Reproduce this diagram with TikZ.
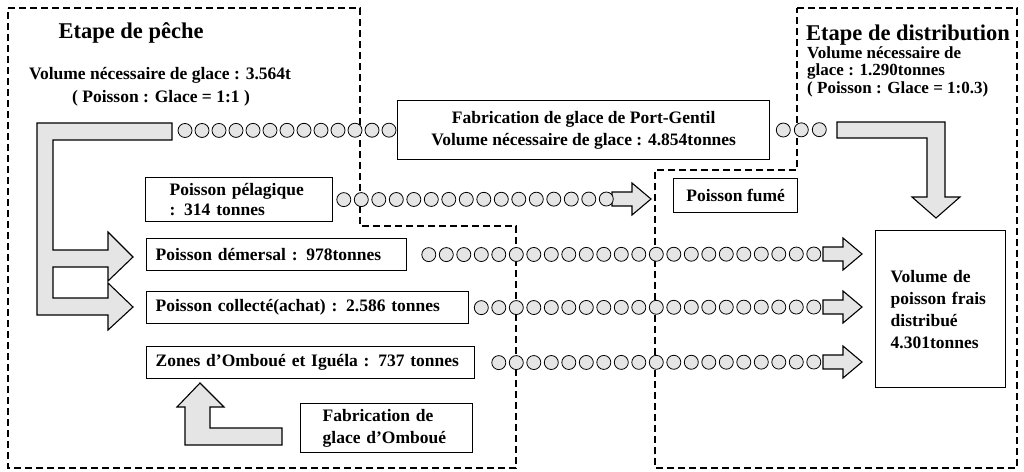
\documentclass[tikz,border=0pt]{standalone}
\usepackage{fontspec}
\setmainfont{Liberation Serif}
\usetikzlibrary{decorations.markings}
\newcommand\bodyfont{\bfseries\fontsize{17.5}{22}\selectfont}
\newcommand\titlefont{\bfseries\fontsize{22.5}{26}\selectfont}
\tikzset{
  region/.style={draw=black, line width=1.2pt, dash pattern=on 7pt off 4pt},
  box/.style={draw=black, line width=1.3pt, inner sep=0pt, font=\bodyfont, anchor=north west},
  blockfill/.style={draw=black, line width=1.1pt, fill=gray!20, line join=miter},
  beads/.style n args={3}{postaction={decorate}, decoration={markings,
      mark=between positions #1 and #2 step #3 with {\draw[line width=0.8pt, fill=gray!20] (0,0) circle (7pt);}}},
  pics/barrow/.style={code={\draw[blockfill] (0,-7) -- (20,-7) -- (20,-16) -- (39,0) -- (20,16) -- (20,7) -- (0,7) -- cycle;}}
}
\begin{document}
\begin{tikzpicture}[x=1pt,y=-1pt]
\useasboundingbox (0,0) rectangle (1024,471);
% dashed regions
\draw[region] (8,8) -- (360,8) -- (360,226) -- (516,226) -- (516,468) -- (8,468) -- cycle;
\draw[region] (797,8) -- (1017,8) -- (1017,468) -- (655,468) -- (655,170) -- (797,170) -- cycle;
% titles and texts
\node[font=\titlefont, anchor=west] (t1) at (55,33) {Etape de pêche};
\node[font=\bodyfont] (v1) at (160,75) {Volume nécessaire de glace : 3.564t};
\node[font=\bodyfont] (r1) at (161,98) {( Poisson : Glace = 1:1 )};
\node[font=\titlefont, anchor=west, inner sep=0pt] (t2) at (806,35) {Etape de distribution};
\node[font=\bfseries\fontsize{17}{17.5}\selectfont, anchor=north west, align=left, inner sep=0pt] (v2) at (807,46)
  {Volume nécessaire de\\glace : 1.290tonnes\\( Poisson : Glace = 1:0.3)};
% boxes
\node[box, minimum width=372pt, minimum height=59pt, align=center] (pg) at (397,100)
  {Fabrication de glace de Port-Gentil\\Volume nécessaire de glace : 4.854tonnes};
\node[box, font=\bfseries\fontsize{17.5}{20}\selectfont, minimum height=44pt, text width=139pt, inner xsep=24pt, align=left] (pel) at (145,177)
  {Poisson pélagique\\: 314 tonnes};
\node[box, minimum width=124pt, minimum height=34pt] (fume) at (673,178) {Poisson fumé};
\node[box, minimum height=32pt, text width=242pt, inner xsep=9pt, align=left] (emer) at (146,238)
  {Poisson démersal : 978tonnes};
\node[box, minimum height=32pt, text width=304pt, inner xsep=9pt, align=left] (coll) at (146,291)
  {Poisson collecté(achat) : 2.586 tonnes};
\node[box, minimum height=32pt, text width=310pt, inner xsep=9pt, align=left] (zone) at (146,346)
  {Zones d'Omboué et Iguéla : 737 tonnes};
\node[box, minimum height=49pt, text width=128pt, inner xsep=22pt, align=left] (omb) at (300,403)
  {Fabrication de\\glace d'Omboué};
\node[box, minimum height=157pt, text width=100pt, inner xsep=15pt, align=left] (dist) at (875,230)
  {Volume de\\poisson frais\\distribué\\4.301tonnes};
% big block arrows
\draw[blockfill] (37,123) -- (172,123) -- (172,140) -- (53,140) -- (53,250) -- (108,250) -- (108,232)
  -- (133,257) -- (108,281) -- (108,267) -- (53,267) -- (53,298) -- (108,298) -- (108,283)
  -- (133,307) -- (108,330) -- (108,315) -- (37,315) -- cycle;
\coordinate (Lend) at (172,130.5);
\draw[blockfill] (837,122) -- (945,122) -- (945,197) -- (960,197) -- (936,218) -- (912,197)
  -- (927,197) -- (927,138) -- (837,138) -- cycle;
\coordinate (Rstart) at (837,129.5);
\draw[blockfill] (200,383) -- (224,407) -- (210,407) -- (210,428) -- (282,428) -- (282,445)
  -- (185,445) -- (185,407) -- (177,407) -- cycle;
% small arrows
\coordinate (pa) at (612,199);
\coordinate (a1) at (823,254);
\coordinate (a2) at (823,307);
\coordinate (a3) at (823,362);
\pic at (pa) {barrow};
\pic at (a1) {barrow};
\pic at (a2) {barrow};
\pic at (a3) {barrow};
% bead connectors
\path[beads={13pt}{-7pt}{17pt}] (Lend) -- (pg.west);
\path[beads={13pt}{-10pt}{18pt}] (pg.east) -- (Rstart);
\path[beads={10.5pt}{-5pt}{17.5pt}] (pel.east) -- (pa);
\path[beads={21.5pt}{-9pt}{17.5pt}] (emer.east) -- (a1);
\path[beads={12pt}{-9pt}{17.5pt}] (coll.east) -- (a2);
\path[beads={23.5pt}{-9pt}{17.5pt}] (zone.east) -- (a3);
\end{tikzpicture}
\end{document}
